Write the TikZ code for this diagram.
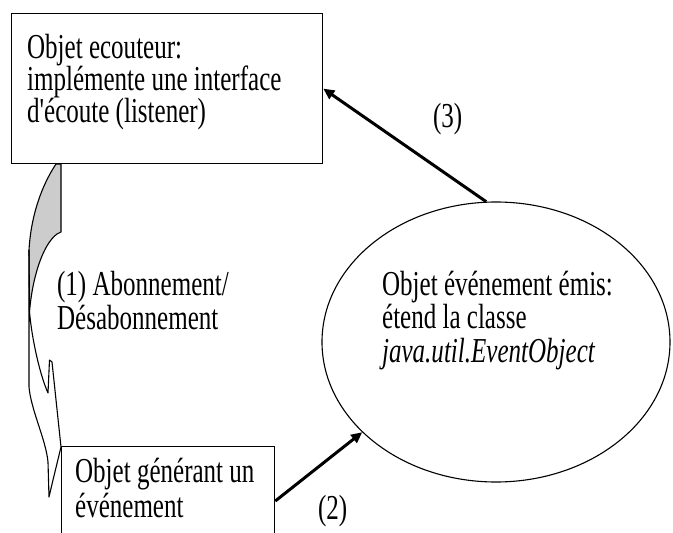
\documentclass[tikz,border=0pt]{standalone}
\usepackage{fontspec}
\setmainfont{Liberation Serif}[Ligatures=TeXOff]
\usetikzlibrary{arrows.meta,shapes.geometric,calc}
\begin{document}
\begin{tikzpicture}[x=1pt,y=-1pt,
  box/.style={draw,line width=1.3pt,inner sep=0pt,anchor=north west},
  txt/.style={anchor=base west,inner sep=0pt,xscale=0.715,font=\fontsize{35}{38}\selectfont},
  flow/.style={line width=3pt,-{Triangle[length=11pt,width=10pt]}},
  outline/.style={line width=1.1pt,line join=round}]
\useasboundingbox (0,0) rectangle (673,533);
\clip (0,0) rectangle (673,533);

% listener object
\node[box,minimum width=311pt,minimum height=150pt] (listener) at (11,13) {};
\node[txt] (l1) at (27,58) {Objet ecouteur:};
\node[txt] (l2) at (27,90) {implémente une interface};
\node[txt] (l3) at (27,122) {d'écoute (listener)};

% event object
\node[draw,ellipse,line width=1.1pt,minimum width=348pt,minimum height=280pt] (event) at (496,342) {};
\node[txt] (e1) at (382,295) {Objet événement émis:};
\node[txt] (e2) at (382,328) {étend la classe};
\node[txt] (e3) at (382,362) {\itshape java.util.EventObject};

% source object (runs past the lower edge)
\node[box,minimum width=213pt,minimum height=110pt] (source) at (61,446) {};
\node[txt] (s1) at (75,482) {Objet générant un};
\node[txt] (s2) at (75,517) {événement};

% curved subscription arrow: shaded back face
\filldraw[outline,fill=gray!40]
  (56,164) -- (61,164) -- (61,232) -- (57,234)
  .. controls (42,245) and (32,280) .. (29.5,312)
  -- (29,250) .. controls (31,215) and (42,185) .. (56,164) -- cycle;
% front face with its head
\draw[outline]
  (29,250) -- (29,387) .. controls (31,410) and (46,440) .. (48,462)
  -- (49,497) -- (53,480) -- (61,447) -- (52,362) -- (49.5,360) -- (48,393)
  .. controls (40,375) and (32,340) .. (29.5,312);
\node[txt] (a1) at (57,295) {(1) Abonnement/};
\node[txt] (a2) at (57,329) {Désabonnement};

% emission and notification
\draw[flow] ($(source.north east)+(0,55)$) -- (event.214);
\node[txt] (n2) at (318,519) {(2)};
\draw[flow] (event.94) -- (listener.east);
\node[txt] (n3) at (433,127) {(3)};
\end{tikzpicture}
\end{document}
